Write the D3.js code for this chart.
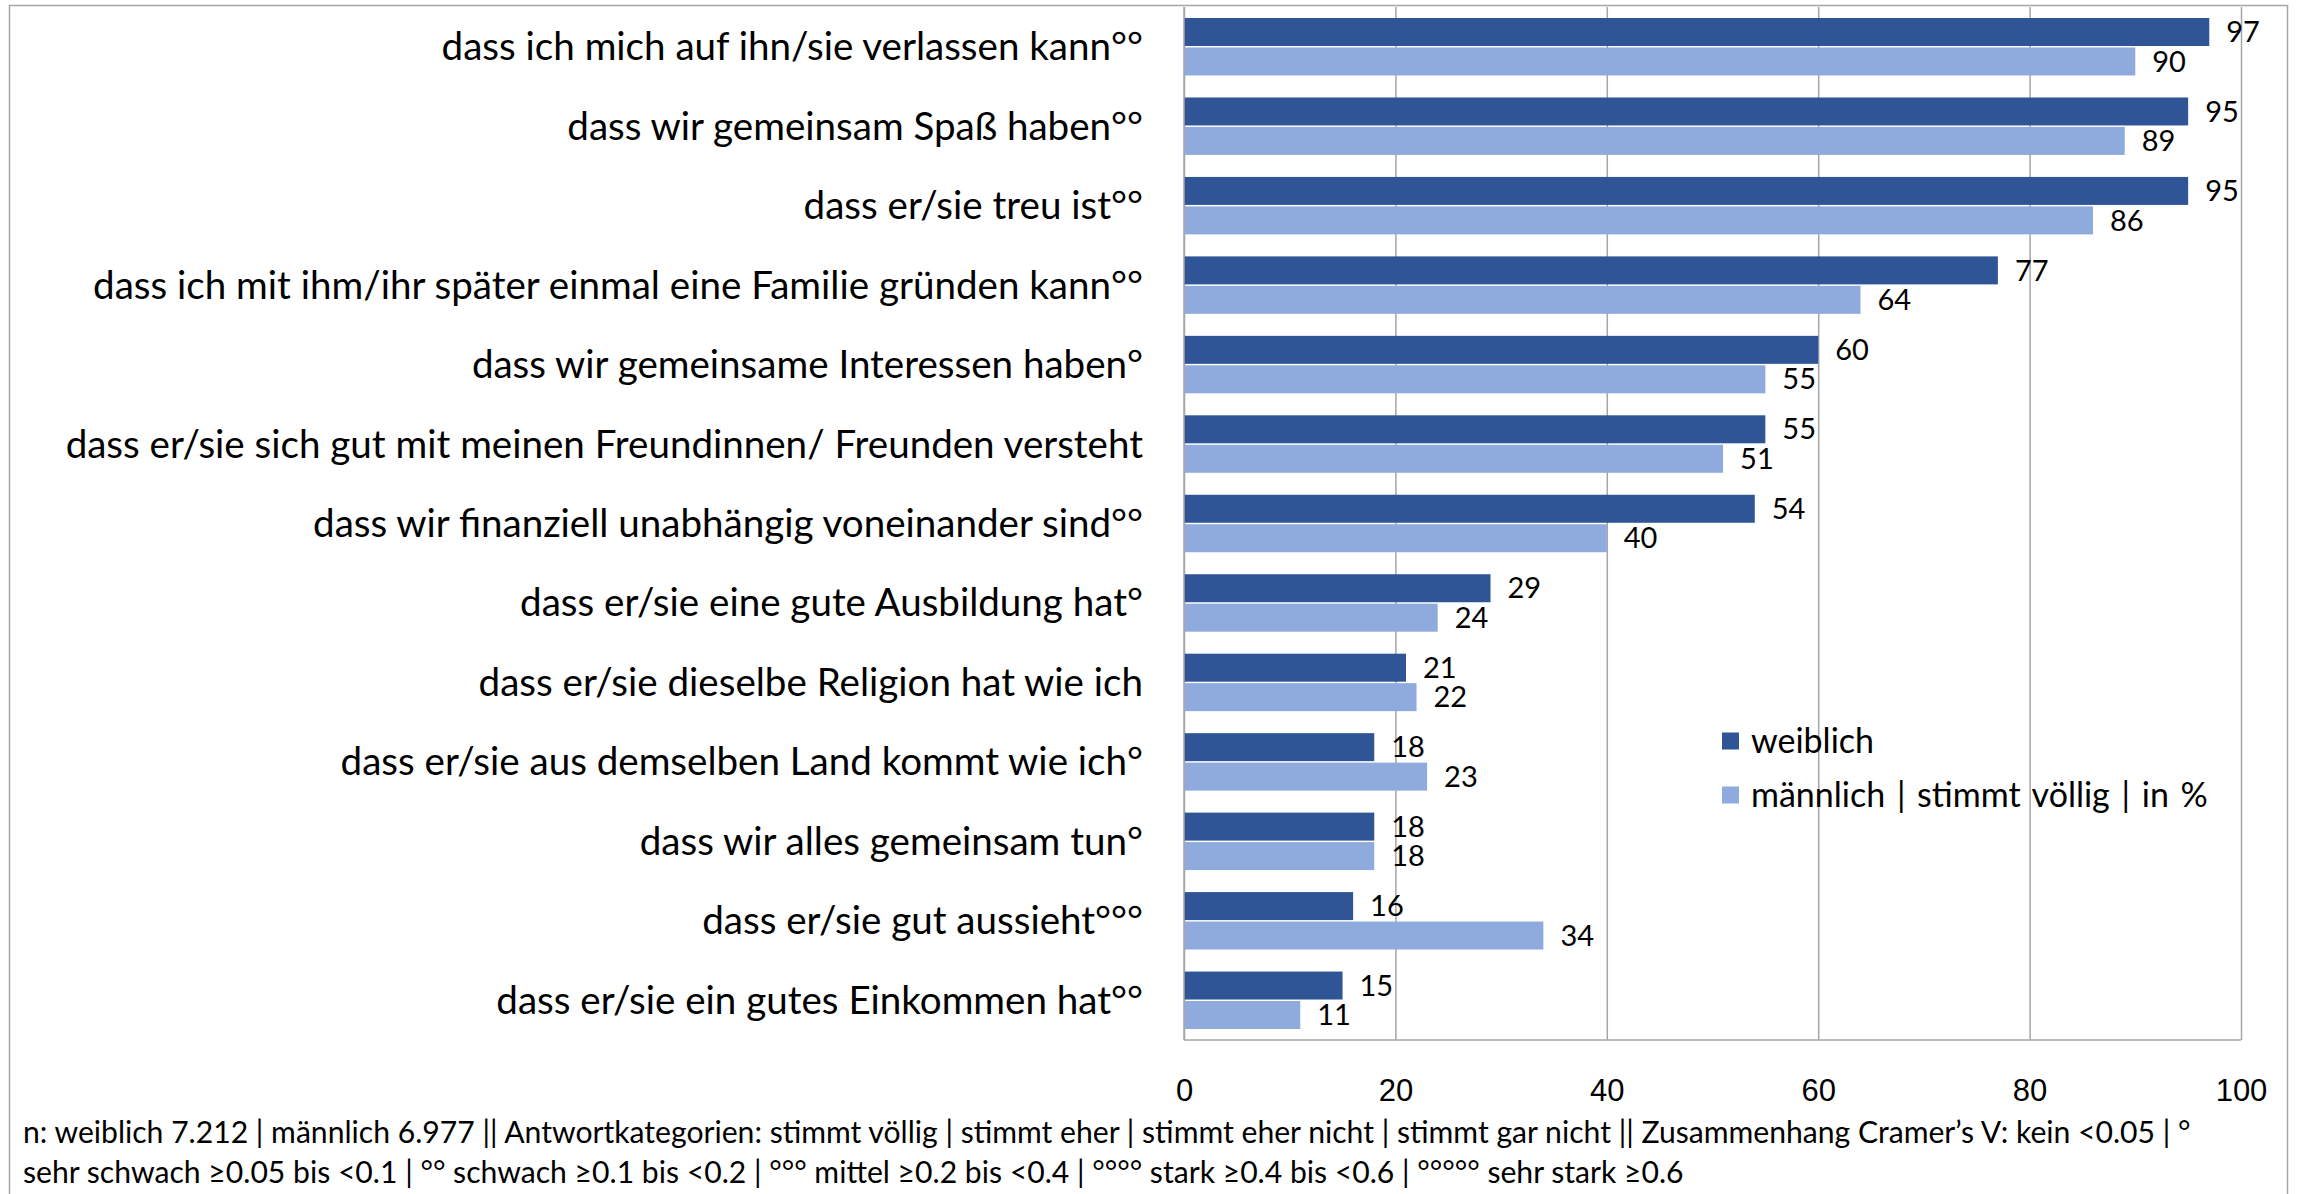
<!DOCTYPE html>
<html>
<head>
<meta charset="utf-8">
<script src="https://cdn.jsdelivr.net/npm/d3@7"></script>
<style>
  html, body { margin: 0; padding: 0; background: #fff; }
  svg { display: block; font-family: Lato, "Noto Sans", sans-serif; }
</style>
</head>
<body>
<div id="chart"></div>
<script>
// categories, top to bottom
const categories = [
    "dass ich mich auf ihn/sie verlassen kann°°",
    "dass wir gemeinsam Spaß haben°°",
    "dass er/sie treu ist°°",
    "dass ich mit ihm/ihr später einmal eine Familie gründen kann°°",
    "dass wir gemeinsame Interessen haben°",
    "dass er/sie sich gut mit meinen Freundinnen/ Freunden versteht",
    "dass wir finanziell unabhängig voneinander sind°°",
    "dass er/sie eine gute Ausbildung hat°",
    "dass er/sie dieselbe Religion hat wie ich",
    "dass er/sie aus demselben Land kommt wie ich°",
    "dass wir alles gemeinsam tun°",
    "dass er/sie gut aussieht°°°",
    "dass er/sie ein gutes Einkommen hat°°"
];
const weiblich = [97, 95, 95, 77, 60, 55, 54, 29, 21, 18, 18, 16, 15];
const maennlich = [90, 89, 86, 64, 55, 51, 40, 24, 22, 23, 18, 34, 11];
const seriesNames = ["weiblich", "männlich | stimmt völlig | in %"];
const xTicks = [0, 20, 40, 60, 80, 100];
const footerLines = [
    "n: weiblich 7.212 | männlich 6.977 || Antwortkategorien: stimmt völlig | stimmt eher | stimmt eher nicht | stimmt gar nicht || Zusammenhang Cramer’s V: kein <0.05 | °",
    "sehr schwach ≥0.05 bis <0.1 | °° schwach ≥0.1 bis <0.2 | °°° mittel ≥0.2 bis <0.4 | °°°° stark ≥0.4 bis <0.6 | °°°°° sehr stark ≥0.6"
];

const colors = ["#2f5597", "#8faadc"];
const width = 2297, height = 1194;
const plot = { left: 1184, right: 2241, top: 7, bottom: 1040 };

const svg = d3.select("#chart").append("svg")
    .attr("width", width)
    .attr("height", height);

// outer frame (bottom edge falls outside the picture)
svg.append("rect")
    .attr("x", 9.5).attr("y", 5.5)
    .attr("width", 2278).attr("height", 1220)
    .attr("fill", "none")
    .attr("stroke", "#a6a6a6")
    .attr("stroke-width", 1.5);

const x = d3.scaleLinear().domain([0, 100]).range([plot.left, plot.right]);
const y = d3.scaleBand().domain(categories)
    .range([plot.top, plot.bottom])
    .paddingInner(0.277).paddingOuter(0.1385);
const ySub = d3.scaleBand().domain([0, 1])
    .range([0, y.bandwidth()])
    .paddingInner(0.05);

// gridlines
svg.append("g")
    .attr("transform", `translate(0,${plot.bottom})`)
    .call(d3.axisBottom(x).tickValues(xTicks).tickSize(-(plot.bottom - plot.top)).tickFormat(""))
    .call(g => g.select(".domain").remove())
    .call(g => g.selectAll("line").attr("stroke", "#a6a6a6").attr("stroke-width", 1.5));

// bars
const rows = categories.map((c, i) => ({ cat: c, vals: [weiblich[i], maennlich[i]] }));
const groups = svg.append("g").selectAll("g")
    .data(rows)
    .join("g")
    .attr("transform", d => `translate(0,${y(d.cat)})`);

groups.selectAll("rect")
    .data(d => d.vals.map((v, k) => ({ v, k })))
    .join("rect")
    .attr("x", x(0))
    .attr("y", d => ySub(d.k))
    .attr("width", d => x(d.v) - x(0))
    .attr("height", ySub.bandwidth())
    .attr("fill", d => colors[d.k]);

groups.selectAll("text")
    .data(d => d.vals.map((v, k) => ({ v, k })))
    .join("text")
    .attr("x", d => x(d.v) + 17)
    .attr("y", d => ySub(d.k) + ySub.bandwidth() / 2)
    .attr("dy", "0.35em")
    .attr("font-size", 29)
    .attr("fill", "#000")
    .text(d => d.v);

// axis lines
svg.append("line")
    .attr("x1", plot.left).attr("x2", plot.right)
    .attr("y1", plot.bottom).attr("y2", plot.bottom)
    .attr("stroke", "#a6a6a6").attr("stroke-width", 1.5);
svg.append("line")
    .attr("x1", plot.left).attr("x2", plot.left)
    .attr("y1", plot.top).attr("y2", plot.bottom)
    .attr("stroke", "#a6a6a6").attr("stroke-width", 1.5);

// x tick labels
svg.append("g")
    .attr("transform", `translate(0,${plot.bottom + 39})`)
    .call(d3.axisBottom(x).tickValues(xTicks).tickSize(0).tickPadding(0))
    .call(g => g.select(".domain").remove())
    .call(g => g.selectAll("text").attr("font-size", 31).attr("font-family", null).attr("fill", "#000"));

// category labels, sized so the longest fits the reference width
const catLabels = svg.append("g").selectAll("text")
    .data(categories)
    .join("text")
    .attr("x", 1143)
    .attr("y", d => y(d) + y.bandwidth() / 2)
    .attr("dy", "0.35em")
    .attr("text-anchor", "end")
    .attr("font-size", 32)
    .attr("fill", "#000")
    .text(d => d);
let longest = 0;
catLabels.each(function () { longest = Math.max(longest, this.getComputedTextLength()); });
catLabels.attr("font-size", 32 * 1078 / longest);

// legend
const legend = svg.append("g").selectAll("g")
    .data(seriesNames)
    .join("g")
    .attr("transform", (d, i) => `translate(1722,${741 + i * 54})`);
legend.append("rect")
    .attr("x", 0).attr("y", -8.5)
    .attr("width", 17).attr("height", 17)
    .attr("fill", (d, i) => colors[i]);
legend.append("text")
    .attr("x", 29).attr("dy", "0.35em")
    .attr("font-size", 34)
    .attr("word-spacing", 3)
    .attr("fill", "#000")
    .text(d => d);

// footer note, scaled between the two reference line widths
const foot = svg.append("g").selectAll("text")
    .data(footerLines)
    .join("text")
    .attr("x", 23)
    .attr("y", (d, i) => 1132 + i * 40)
    .attr("dy", "0.35em")
    .attr("font-size", 26)
    .attr("fill", "#000")
    .text(d => d);
const fw = foot.nodes().map(n => n.getComputedTextLength());
const fScale = (2215 / fw[0] + 1625 / fw[1]) / 2;
foot.attr("font-size", 26 * fScale);
</script>
</body>
</html>
